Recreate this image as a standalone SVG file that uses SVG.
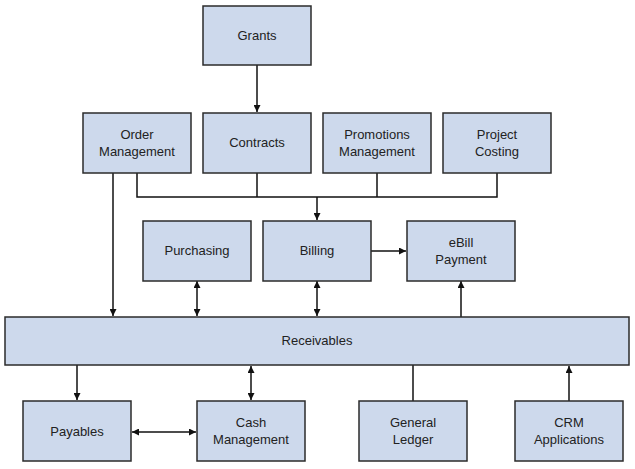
<svg xmlns="http://www.w3.org/2000/svg" width="635" height="469" viewBox="0 0 635 469">
<defs>
<style>
.n rect{fill:#cdd9ec;stroke:#2b2b2b;stroke-width:1.5}
.n text{font-family:"Liberation Sans",Arial,sans-serif;font-size:13px;fill:#222;text-anchor:middle}
.c path{fill:none;stroke:#111;stroke-width:1.5}
</style>
<marker id="a" viewBox="0 0 10 10" refX="10" refY="5" markerWidth="7" markerHeight="7" orient="auto-start-reverse" markerUnits="userSpaceOnUse"><path d="M0,0L10,5L0,10z" fill="#111"/></marker>
</defs>
<g class="c">
<path d="M257,65V112" marker-end="url(#a)"/>
<path d="M137,173V197H497V173M257,173V197M377,173V197"/>
<path d="M317,197V220" marker-end="url(#a)"/>
<path d="M113,173V316" marker-end="url(#a)"/>
<path d="M197,281V316" marker-start="url(#a)" marker-end="url(#a)"/>
<path d="M317,281V316" marker-start="url(#a)" marker-end="url(#a)"/>
<path d="M371,251H406" marker-end="url(#a)"/>
<path d="M461,317V281" marker-end="url(#a)"/>
<path d="M77,365V400" marker-end="url(#a)"/>
<path d="M251,366V400" marker-start="url(#a)" marker-end="url(#a)"/>
<path d="M413,365V401"/>
<path d="M569,401V366" marker-end="url(#a)"/>
<path d="M132,432H196" marker-start="url(#a)" marker-end="url(#a)"/>
</g>
<g class="n" id="grants"><rect x="203" y="6" width="108" height="59"/><text x="257" y="40">Grants</text></g>
<g class="n" id="order"><rect x="83" y="113" width="108" height="60"/><text x="137" y="139">Order</text><text x="137" y="156">Management</text></g>
<g class="n" id="contracts"><rect x="203" y="113" width="108" height="60"/><text x="257" y="147">Contracts</text></g>
<g class="n" id="promotions"><rect x="323" y="113" width="108" height="60"/><text x="377" y="139">Promotions</text><text x="377" y="156">Management</text></g>
<g class="n" id="project"><rect x="443" y="113" width="108" height="60"/><text x="497" y="139">Project</text><text x="497" y="156">Costing</text></g>
<g class="n" id="purchasing"><rect x="143" y="221" width="108" height="60"/><text x="197" y="255">Purchasing</text></g>
<g class="n" id="billing"><rect x="263" y="221" width="108" height="60"/><text x="317" y="255">Billing</text></g>
<g class="n" id="ebill"><rect x="407" y="221" width="108" height="60"/><text x="461" y="247">eBill</text><text x="461" y="264">Payment</text></g>
<g class="n" id="receivables"><rect x="5" y="317" width="624" height="48"/><text x="317" y="345">Receivables</text></g>
<g class="n" id="payables"><rect x="23" y="401" width="108" height="60"/><text x="77" y="436">Payables</text></g>
<g class="n" id="cash"><rect x="197" y="401" width="108" height="60"/><text x="251" y="427">Cash</text><text x="251" y="444">Management</text></g>
<g class="n" id="gl"><rect x="359" y="401" width="108" height="60"/><text x="413" y="427">General</text><text x="413" y="444">Ledger</text></g>
<g class="n" id="crm"><rect x="515" y="401" width="108" height="60"/><text x="569" y="427">CRM</text><text x="569" y="444">Applications</text></g>
</svg>
